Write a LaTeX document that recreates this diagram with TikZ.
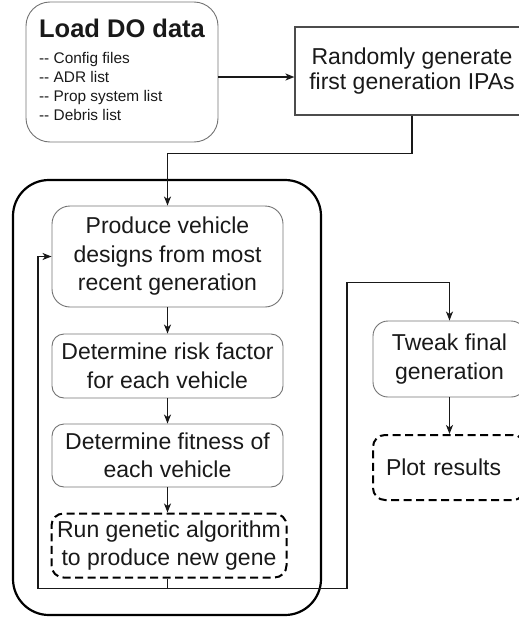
\documentclass[tikz,border=0pt]{standalone}
\usepackage{fontspec}
\setmainfont{Liberation Sans}
\usetikzlibrary{arrows.meta}
\begin{document}
\begin{tikzpicture}[x=1pt,y=-1pt,
  every node/.style={inner sep=0pt, text=black!90, font=\fontsize{23}{28.5}\selectfont},
  stepbox/.style={draw=black!55, line width=0.9pt, rounded corners=12pt,
    minimum width=231pt, align=center},
  gabox/.style={draw=black, line width=2pt, dash pattern=on 8pt off 4.5pt,
    rounded corners=12pt, align=center},
  conn/.style={draw=black!90, line width=1.3pt},
  flow/.style={conn, -{Stealth[length=9pt,width=7pt,inset=2.5pt]}},
]
\useasboundingbox (0,0) rectangle (519,621);
\clip (0,0) rectangle (519,621);

% input stage
\node[draw=black!55, line width=0.9pt, rounded corners=24pt,
      minimum width=192pt, minimum height=140pt, align=left,
      font=\fontsize{15.4}{19}\selectfont] (load) at (122,72)
  {{\fontsize{25.5}{26}\selectfont\bfseries Load DO data}\\[7pt]
   -{}- Config files\\
   -{}- ADR list\\
   -{}- Prop system list\\
   -{}- Debris list\rule[-5pt]{0pt}{5pt}};
\node[draw=black!70, line width=1.2pt, minimum width=234pt, minimum height=88pt,
      align=center, font=\fontsize{23}{24.5}\selectfont] (rnd) at (412,71)
  {Randomly generate\\first generation IPAs};

% generation loop
\node[draw=black, line width=2.2pt, rounded corners=36pt,
      minimum width=308pt, minimum height=435pt] (loop) at (167,397.5) {};
\node[stepbox, rounded corners=18pt, minimum height=101pt] (prod) at (167.5,256.5)
  {Produce vehicle\\designs from most\\recent generation};
\node[stepbox, minimum height=64pt] (risk) at (167.5,366)
  {Determine risk factor\\for each vehicle};
\node[stepbox, minimum height=63pt] (fit) at (167.5,455.5)
  {Determine fitness of\\each vehicle};
\node[gabox, minimum width=235pt, minimum height=64pt] (ga) at (169,545.5)
  {Run genetic algorithm\\to produce new gene};

% final stage
\node[stepbox, minimum width=153pt, minimum height=76pt, rounded corners=15pt]
  (tweak) at (449.5,359) {Tweak final\\generation};
\node[gabox, minimum height=65pt, text width=126pt, inner xsep=13pt, align=left]
  (plot) at (449,467.5) {Plot results};

% connectors
\coordinate (c1) at ([yshift=-5pt]load.east);
\draw[flow] (c1) -- (c1 -| rnd.west);
\draw[flow] (rnd.south) -- ++(0,38) -| (prod.north);
\draw[flow] (prod) -- (risk);
\draw[flow] (risk) -- (fit);
\draw[flow] (fit.south) -- (fit.south |- ga.north);
\coordinate (j) at ([yshift=-10pt]ga.south -| fit.south);
\draw[conn] (ga.south -| fit.south) -- (j);
\draw[flow] (j) -- ++(-129.5,0) |- (prod.west);
\draw[flow] (j) -- ++(179.5,0) -- ++(0,-306) -| (tweak.north);
\draw[flow] (tweak.south) -- (tweak.south |- plot.north);
\end{tikzpicture}
\end{document}
